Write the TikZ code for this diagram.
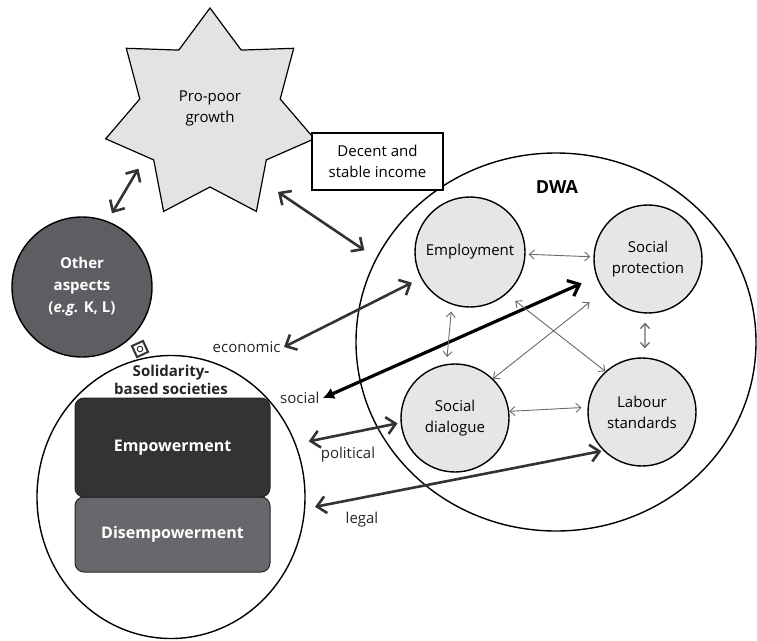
\documentclass[tikz,border=0pt]{standalone}
\usepackage{fontspec}
\setmainfont{Open Sans}
\usetikzlibrary{shapes.geometric,arrows.meta}

\definecolor{bubblegray}{HTML}{E6E6E8}
\definecolor{stargray}{HTML}{E3E3E6}
\definecolor{othergray}{HTML}{5E5E62}
\definecolor{empgray}{HTML}{333336}
\definecolor{disgray}{HTML}{68686C}
\definecolor{linkgray}{HTML}{333333}
\definecolor{thingray}{HTML}{6A6A6A}

\tikzset{
    bubble/.style={circle, draw, line width=1.4pt, fill=bubblegray, minimum size=108pt,
        inner sep=0pt, align=center, font=\fontsize{15}{21}\selectfont},
    bigarrow/.style={draw=linkgray, line width=2.6pt,
        {Straight Barb[length=9pt,width=17pt]}-{Straight Barb[length=9pt,width=17pt]}},
    socialarrow/.style={draw=black, line width=3.2pt,
        {Latex[length=11pt,width=12pt]}-{Straight Barb[length=10pt,width=17pt]}},
    midarrow/.style={draw=thingray, line width=1.3pt,
        {Straight Barb[length=5pt,width=9pt]}-{Straight Barb[length=5pt,width=9pt]}},
    thinarrow/.style={draw=thingray, line width=0.9pt,
        {Straight Barb[length=5pt,width=9pt]}-{Straight Barb[length=5pt,width=9pt]}},
    tag/.style={font=\fontsize{15}{18}\selectfont, text=black!85},
    layer/.style={rounded corners=9pt, draw=black!85, line width=1pt, minimum width=195pt,
        text=white, font=\bfseries\fontsize{16}{19}\selectfont}
}

\begin{document}
\begin{tikzpicture}[x=1pt, y=-1pt]
    \useasboundingbox (0,0) rectangle (757,640);

    % Decent work agenda and its four pillars
    \node[ellipse, draw, line width=1.4pt, fill=white, minimum width=400pt, minimum height=378pt] (dwa) at (556,342) {};
    \node[font=\bfseries\fontsize{18}{21}\selectfont] (dwatitle) at (557,187) {DWA};
    \node[bubble, minimum size=110pt] (employment) at (470,252) {Employment};
    \node[bubble] (protection) at (648,259) {Social\\protection};
    \node[bubble] (dialogue) at (455,418) {Social\\dialogue};
    \node[bubble] (standards) at (642,412) {Labour\\standards};

    % Solidarity-based societies
    \node[ellipse, draw, line width=1.4pt, fill=white, minimum width=268pt, minimum height=283pt] (solid) at (171,497) {};
    \node[align=center, font=\bfseries\fontsize{15}{18}\selectfont, text=black!85] (solidtitle) at (171,380) {Solidarity-\\based societies};
    \node[layer, fill=disgray, minimum height=75pt] (disempower) at (172.5,534.5) {Disempowerment};
    \node[layer, fill=empgray, minimum height=99pt] (empower) at (172.5,447.5) {Empowerment};

    % Other aspects
    \node[circle, draw, line width=1.4pt, fill=othergray, minimum size=140pt, inner sep=0pt, align=center,
        text=white, font=\bfseries\fontsize{15}{22}\selectfont] (other) at (82,287) {Other\\aspects\\(\textit{e.g.} K, L)};
    \node[diamond, draw=linkgray, line width=2pt, fill=white, minimum size=18pt, inner sep=0pt, rotate=-20,
        path picture={\draw[linkgray, line width=0.9pt] (path picture bounding box.center) circle (2.8pt);}] (link) at (140,349) {};

    % Pro-poor growth
    \draw[line width=1.2pt, fill=stargray] (210,8) -- (241.2,50.1) -- (293.7,48.3) -- (280.2,99) -- (314.3,138.8)
        -- (266.3,159.9) -- (256.4,211.4) -- (210,187) -- (163.6,211.4) -- (153.7,159.9) -- (105.7,138.8)
        -- (139.8,99) -- (126.3,48.3) -- (178.8,50.1) -- cycle;
    \node[circle, minimum size=176pt, inner sep=0pt, align=center, font=\fontsize{15}{21}\selectfont] (growth) at (210,108) {Pro-poor\\growth};
    \node[draw, line width=1.2pt, fill=white, minimum width=131pt, minimum height=57pt, inner sep=0pt,
        align=center, font=\fontsize{15}{21}\selectfont] (income) at (377.5,161.5) {Decent and\\stable income};

    % Dimensions
    \node[tag, anchor=east] (econ) at (284,347) {economic};
    \node[tag, anchor=east] (social) at (323,398) {social};
    \node[tag] (political) at (348,455) {political};
    \node[tag] (legal) at (362,520) {legal};

    \draw[bigarrow, shorten <=6pt, shorten >=9pt] (growth.219) -- (other.69);
    \draw[bigarrow, shorten <=21pt, shorten >=14pt] (growth.-55) -- (dwa.155);
    \draw[bigarrow, shorten >=10pt] (econ.east) -- (employment.208);
    \draw[socialarrow, shorten >=16pt] (social.east) -- (protection.199);
    \draw[bigarrow, shorten <=13pt, shorten >=3pt] (solid.23) -- (dialogue.185);
    \draw[bigarrow, shorten <=10pt, shorten >=2pt] (solid.-5) -- (standards.225);

    % Links between the pillars
    \draw[thinarrow, shorten <=3pt, shorten >=3pt] (employment) -- (protection);
    \draw[thinarrow, shorten <=7pt, shorten >=7pt] (employment.-109) -- (dialogue.99);
    \draw[midarrow, shorten <=9pt, shorten >=9pt] (protection.-93) -- (standards.87);
    \draw[thinarrow, shorten >=6pt] (dialogue.7) -- (standards.175);
    \draw[thinarrow, shorten <=18pt] (protection.216) -- (dialogue.46);
    \draw[thinarrow, shorten <=11pt] (employment.-49) -- (standards.132);
\end{tikzpicture}
\end{document}
